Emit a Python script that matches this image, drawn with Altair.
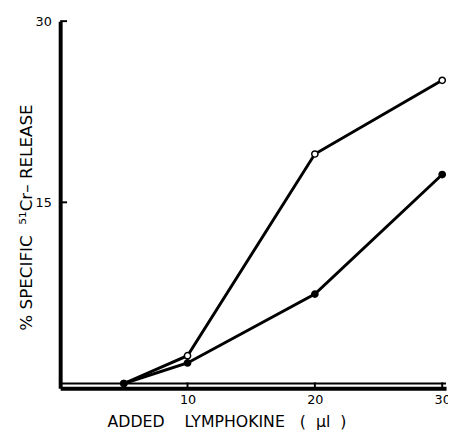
import altair as alt
import pandas as pd

# Data
doses = [5, 10, 20, 30]
open_release = [0.0, 2.3, 19.0, 25.1]     # open circles
filled_release = [0.0, 1.7, 7.4, 17.3]    # filled circles
series_names = ["open", "filled"]
x_ticks = [10, 20, 30]
y_ticks = [15, 30]
baseline = [0]

W, H = 392, 373
FONT = "DejaVu Sans"
NB = "\u00a0"

rows = []
for d, v in zip(doses, open_release):
    rows.append({"dose": d, "release": v, "series": "open"})
for d, v in zip(doses, filled_release):
    rows.append({"dose": d, "release": v, "series": "filled"})
df = pd.DataFrame(rows)

xscale = alt.Scale(domain=[0, 30.3], nice=False, zero=False)
yscale = alt.Scale(domain=[-0.4, 30], nice=False, zero=False)

x_title = "ADDED" + NB * 4 + "LYMPHOKINE" + NB * 3 + "(" + NB * 2 + "µl" + NB * 2 + ")"
y_title = "%" + NB + "SPECIFIC" + NB * 2 + "⁵¹Cr–" + NB + "RELEASE"

x_axis = alt.Axis(
    values=x_ticks,
    title=x_title,
    ticks=False,
    tickSize=0,
    labelPadding=5,
    grid=False,
    titleX=169,
    titleY=39,
    titleAlign="center",
    titleBaseline="alphabetic",
)
y_axis = alt.Axis(
    values=y_ticks,
    title=y_title,
    ticks=False,
    tickSize=0,
    labelPadding=9,
    grid=False,
    titleX=-34,
    titleY=199,
    titleAngle=-90,
    titleAlign="center",
    titleBaseline="middle",
    titleFontSize=17,
)

lines = alt.Chart(df).mark_line(color="black", strokeWidth=3).encode(
    x=alt.X("dose:Q", scale=xscale, axis=x_axis),
    y=alt.Y("release:Q", scale=yscale, axis=y_axis),
    detail="series:N",
)

points = alt.Chart(df).mark_point(
    shape="circle", filled=True, stroke="black", strokeWidth=1.5, opacity=1
).encode(
    x=alt.X("dose:Q", scale=xscale, axis=x_axis),
    y=alt.Y("release:Q", scale=yscale, axis=y_axis),
    fill=alt.Fill(
        "series:N",
        scale=alt.Scale(domain=series_names, range=["white", "black"]),
        legend=None,
    ),
    size=alt.value(40),
)

base_df = pd.DataFrame({"release": baseline})
base_rule = alt.Chart(base_df).mark_rule(color="black", strokeWidth=2).encode(
    y=alt.Y("release:Q", scale=yscale, axis=y_axis),
    x=alt.value(0),
    x2=alt.value(W),
)

ytick_df = pd.DataFrame({"release": y_ticks})
ytick_rules = alt.Chart(ytick_df).mark_rule(color="black", strokeWidth=2).encode(
    y=alt.Y("release:Q", scale=yscale, axis=y_axis),
    x=alt.value(0),
    x2=alt.value(7),
)

xtick_df = pd.DataFrame({"dose": x_ticks})
xtick_rules = alt.Chart(xtick_df).mark_rule(color="black", strokeWidth=2).encode(
    x=alt.X("dose:Q", scale=xscale, axis=x_axis),
    y=alt.value(H),
    y2=alt.value(H - 6),
)

chart = (
    alt.layer(lines, base_rule, ytick_rules, xtick_rules, points)
    .properties(
        width=W,
        height=H,
        autosize=alt.AutoSizeParams(type="none"),
        padding={"left": 53, "top": 10, "right": 2, "bottom": 40},
        background="white",
    )
    .configure_view(stroke=None)
    .configure_axis(
        domainColor="black",
        domainWidth=4,
        labelColor="black",
        labelFont=FONT,
        labelFontSize=13,
        titleColor="black",
        titleFont=FONT,
        titleFontSize=16,
        titleFontWeight="normal",
    )
)

chart.save("out.html", embed_options={"renderer": "svg", "actions": False})
